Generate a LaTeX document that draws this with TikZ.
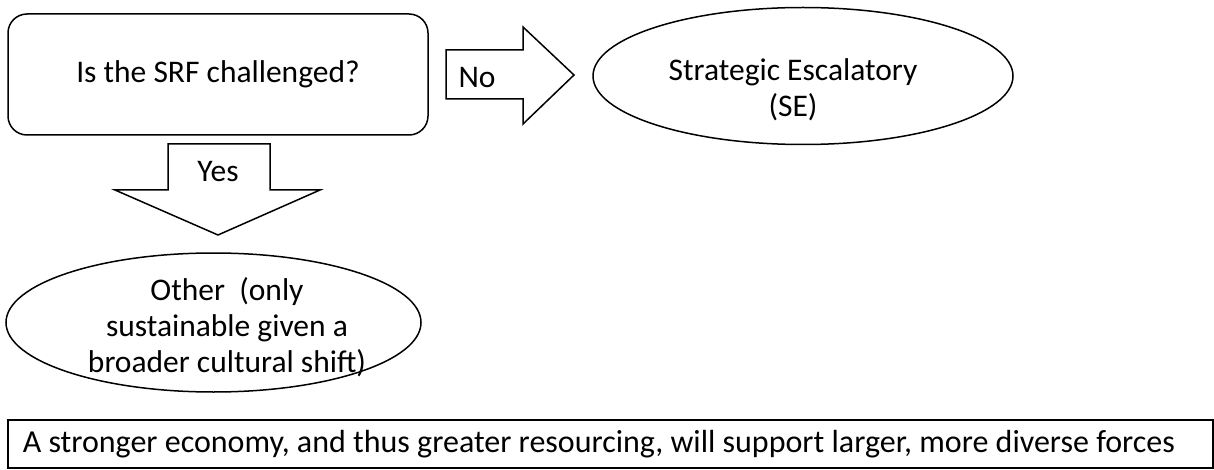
\documentclass[tikz,border=0pt]{standalone}
\usepackage{fontspec}
\setmainfont{Carlito}
\usetikzlibrary{shapes.geometric}
\begin{document}
\begin{tikzpicture}[x=1pt,y=-1pt,line width=1.5pt,
  txt/.style={font=\fontsize{31.5}{36}\selectfont},
  oval/.style={draw,ellipse,inner sep=0pt}]
\useasboundingbox (0,0) rectangle (1214,470);

\node[txt,draw,rounded corners=19pt,minimum width=420pt,minimum height=121pt] (srf) at (218,74.5) {Is the SRF challenged?};

\node[txt] (no) at (477,78) {No};
\draw (446,50) -- (523,50) -- (523,27) -- (574,75) -- (523,124) -- (523,99) -- (446,99) -- cycle;

\node[oval,minimum width=420pt,minimum height=137pt] (se) at (803,76) {};
\node[txt,align=center] (setext) at (793,90) {Strategic Escalatory\\(SE)};

\node[txt] (yes) at (218,172) {Yes};
\draw (168,144) -- (270,144) -- (270,190) -- (320,190) -- (218,235) -- (115,190) -- (168,190) -- cycle;

\node[oval,minimum width=415pt,minimum height=139pt] (other) at (213.5,322.5) {};
\node[txt,align=center] (othertext) at (227,327) {Other\ \ (only\\sustainable given a\\broader cultural shift)};

\node[txt,font=\fontsize{32}{36}\selectfont,draw,anchor=west,minimum height=48pt,text width=1175pt,inner xsep=15pt,align=flush left] (economy) at (7,444) {A stronger economy, and thus greater resourcing, will support larger, more diverse forces};
\end{tikzpicture}
\end{document}
